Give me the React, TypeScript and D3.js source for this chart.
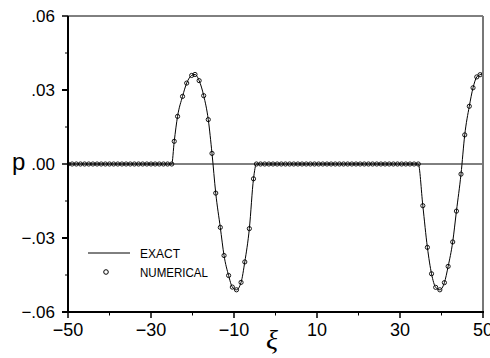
import React from "react";
import * as d3 from "d3";

// Numerical grid points (ξ) and values (p)
const zeros1Xi: number[] = d3.range(-50, -24.99, 1);
const wave1Xi = [-24.4, -23.6, -22.4, -21.4, -20.2, -19.4, -18.4, -17.3, -16.2, -15.3, -14.4, -13.3, -12.4, -11.3, -10.4, -9.4, -8.3, -7.4, -6.3, -5.3];
const wave1P = [0.0092, 0.0193, 0.0274, 0.0328, 0.0359, 0.0363, 0.0338, 0.0277, 0.018, 0.0043, -0.0118, -0.0257, -0.0371, -0.0452, -0.0499, -0.051, -0.048, -0.0397, -0.0262, -0.006];
const zeros2Xi: number[] = d3.range(-4.6, 34.5, 1);
const wave2Xi = [35.5, 36.6, 37.6, 38.6, 39.6, 40.7, 41.6, 42.7, 43.6, 44.7, 45.6, 46.7, 47.6, 48.5, 49.3, 50.2];
const wave2P = [-0.0169, -0.0338, -0.0445, -0.05, -0.051, -0.0481, -0.0415, -0.0316, -0.0191, -0.0041, 0.0118, 0.0234, 0.0309, 0.0353, 0.0362, 0.0366];

const xMajor = [-50, -30, -10, 10, 30, 50];
const xMinor = [-40, -20, 0, 20, 40];
const yMajor = [-0.06, -0.03, 0, 0.03, 0.06];
const yMinor = [-0.045, -0.015, 0.015, 0.045];
const yLabels = ["\u2212.06", "\u2212.03", ".00", ".03", ".06"];
const xLabels = ["\u221250", "\u221230", "\u221210", "10", "30", "50"];
const legendItems = ["EXACT", "NUMERICAL"];

type Pt = { xi: number; p: number };

export default function App() {
  const W = 490, H = 358;
  const L = 68, R = 483, T = 16, B = 312;
  const x = d3.scaleLinear().domain([-50, 50]).range([L, R]);
  const y = d3.scaleLinear().domain([-0.06, 0.06]).range([B, T]);

  const pts: Pt[] = [
    ...zeros1Xi.map((xi) => ({ xi, p: 0 })),
    ...wave1Xi.map((xi, i) => ({ xi, p: wave1P[i] })),
    ...zeros2Xi.map((xi) => ({ xi, p: 0 })),
    ...wave2Xi.map((xi, i) => ({ xi, p: wave2P[i] })),
  ];

  const line = d3
    .line<Pt>()
    .x((d) => x(d.xi))
    .y((d) => y(d.p))
    .curve(d3.curveMonotoneX);

  const font = "'Liberation Sans', Arial, sans-serif";

  return (
    <svg width={W} height={H} style={{ position: "absolute", left: 0, top: 0, background: "#fff" }}>
      <defs>
        <clipPath id="plot">
          <rect x={L} y={T - 10} width={R - L} height={B - T + 20} />
        </clipPath>
      </defs>
      {/* zero line */}
      <line x1={L - 6} x2={R} y1={y(0)} y2={y(0)} stroke="#000" strokeWidth={1} />
      {/* exact curve */}
      <g clipPath="url(#plot)">
        <path d={line(pts) || ""} fill="none" stroke="#000" strokeWidth={1} />
        {pts.map((d, i) => (
          <circle key={i} cx={x(d.xi)} cy={y(d.p)} r={2.1} fill="none" stroke="#000" strokeWidth={0.9} />
        ))}
      </g>
      {/* frame */}
      <line x1={L - 6} x2={R} y1={T} y2={T} stroke="#000" strokeWidth={1} />
      <line x1={R} x2={R} y1={T} y2={B} stroke="#777" strokeWidth={2} />
      <line x1={L} x2={L} y1={T} y2={B + 1} stroke="#000" strokeWidth={2} />
      <line x1={L - 6} x2={R + 1} y1={B} y2={B} stroke="#000" strokeWidth={2} />
      {/* y ticks */}
      {yMajor.map((v) => (
        <line key={"ym" + v} x1={L - 6} x2={L} y1={y(v)} y2={y(v)} stroke="#000" strokeWidth={v === 0.06 || v === 0 ? 1 : 2} />
      ))}
      {yMinor.map((v) => (
        <line key={"yn" + v} x1={L - 3} x2={L} y1={y(v)} y2={y(v)} stroke="#000" strokeWidth={1} />
      ))}
      {yMajor.map((v, i) => (
        <text key={"yl" + v} x={L - 13} y={y(v)} dy="0.36em" textAnchor="end" fontFamily={font} fontSize={17} fill="#000">
          {yLabels[i]}
        </text>
      ))}
      {/* x ticks */}
      {xMajor.map((v) => (
        <line key={"xm" + v} x1={x(v)} x2={x(v)} y1={B} y2={B + 6} stroke="#000" strokeWidth={1.5} />
      ))}
      {xMinor.map((v) => (
        <line key={"xn" + v} x1={x(v)} x2={x(v)} y1={B} y2={B + 3.5} stroke="#000" strokeWidth={1} />
      ))}
      {xMajor.map((v, i) => (
        <text key={"xl" + v} x={x(v)} y={336} textAnchor="middle" fontFamily={font} fontSize={18} fill="#000">
          {xLabels[i]}
        </text>
      ))}
      {/* axis titles */}
      <text x={12} y={170} fontFamily={font} fontSize={24} fill="#000">p</text>
      <text x={272} y={349} textAnchor="middle" fontFamily="'Liberation Serif', 'DejaVu Serif', serif" fontStyle="italic" fontSize={28} fill="#000">
        ξ
      </text>
      {/* legend */}
      <line x1={88} x2={130} y1={253} y2={253} stroke="#000" strokeWidth={1} />
      <circle cx={106} cy={272} r={2.3} fill="none" stroke="#000" strokeWidth={1} />
      <text x={140} y={257.5} fontFamily={font} fontSize={13} textLength={40} lengthAdjust="spacingAndGlyphs" fill="#000">
        {legendItems[0]}
      </text>
      <text x={140} y={276.5} fontFamily={font} fontSize={13} textLength={68} lengthAdjust="spacingAndGlyphs" fill="#000">
        {legendItems[1]}
      </text>
    </svg>
  );
}
